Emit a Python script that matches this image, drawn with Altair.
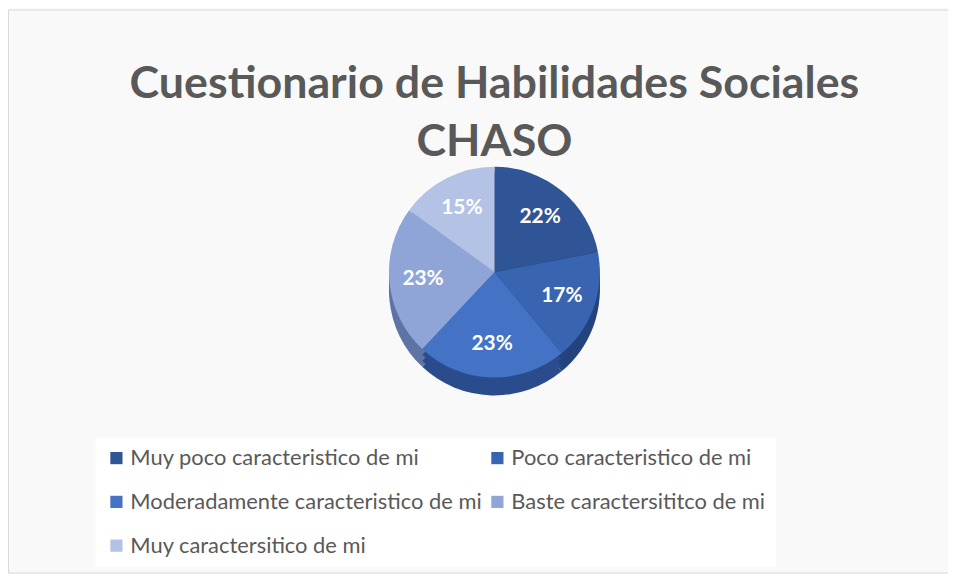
import altair as alt
import pandas as pd

categories = [
    "Muy poco caracteristico de mi",
    "Poco caracteristico de mi",
    "Moderadamente caracteristico de mi",
    "Baste caractersititco de mi",
    "Muy caractersitico de mi",
]
values = [22, 17, 23, 23, 15]
top_colors = ["#2F5597", "#3864B1", "#4472C4", "#8FA5D8", "#B4C2E5"]
side_colors = ["#1F3864", "#24437D", "#2A4C8C", "#5E73A6", "#7F8DB5"]
title_lines = ["Cuestionario de Habilidades Sociales", "CHASO"]

df = pd.DataFrame({
    "cat": categories,
    "value": values,
    "order": list(range(len(categories))),
    "side": side_colors,
    "label": [f"{v}%" for v in values],
})
tdf = pd.DataFrame({"line": title_lines, "row": [0, 1]})

W, H = 945, 566
CX, CY = 489, 264
R = 106
DEPTH = 18

base = alt.Chart(df)

def side_layer(dy):
    return base.mark_arc(outerRadius=R).encode(
        theta=alt.Theta("value:Q", stack=True),
        order=alt.Order("order:Q"),
        color=alt.Color("side:N", scale=None),
        x=alt.value(CX), y=alt.value(CY + dy),
    )

top = base.mark_arc(outerRadius=R).encode(
    theta=alt.Theta("value:Q", stack=True),
    order=alt.Order("order:Q"),
    color=alt.Color(
        "cat:N",
        scale=alt.Scale(domain=categories, range=top_colors),
        sort=categories,
        legend=alt.Legend(
            title=None,
            orient="none",
            direction="horizontal",
            legendX=88,
            legendY=430,
            columns=2,
            symbolType="square",
            symbolSize=150,
            symbolStrokeWidth=0,
            labelFontSize=22,
            labelFont="Lato",
            labelColor="#595959",
            labelLimit=400,
            rowPadding=22,
            columnPadding=4,
            padding=10,
            fillColor="white",
            labelOffset=3,
        ),
    ),
    x=alt.value(CX), y=alt.value(CY),
)

labels = base.mark_text(
    radius=R * 0.68, fontSize=21, font="Lato", fontWeight="bold", color="white"
).encode(
    theta=alt.Theta("value:Q", stack=True),
    order=alt.Order("order:Q"),
    text="label:N",
    x=alt.value(CX), y=alt.value(CY),
)

title = alt.Chart(tdf).mark_text(
    fontSize=45, font="Lato", fontWeight="bold", color="#595959", baseline="alphabetic"
).encode(
    text="line:N",
    x=alt.value(CX),
    y=alt.Y("row:Q", scale=alt.Scale(domain=[0, 1], range=[89, 147]), axis=None),
)

chart = alt.layer(
    side_layer(DEPTH), side_layer(DEPTH * 0.66), side_layer(DEPTH * 0.33),
    top, labels, title
).properties(
    width=W, height=H, padding=0,
    autosize=alt.AutoSizeParams(type="fit", contains="padding"),
    background="#f9f9f9",
).configure_view(stroke="#d9d9d9", strokeWidth=1)

chart.save("out.html", embed_options={"renderer": "svg", "actions": False})
